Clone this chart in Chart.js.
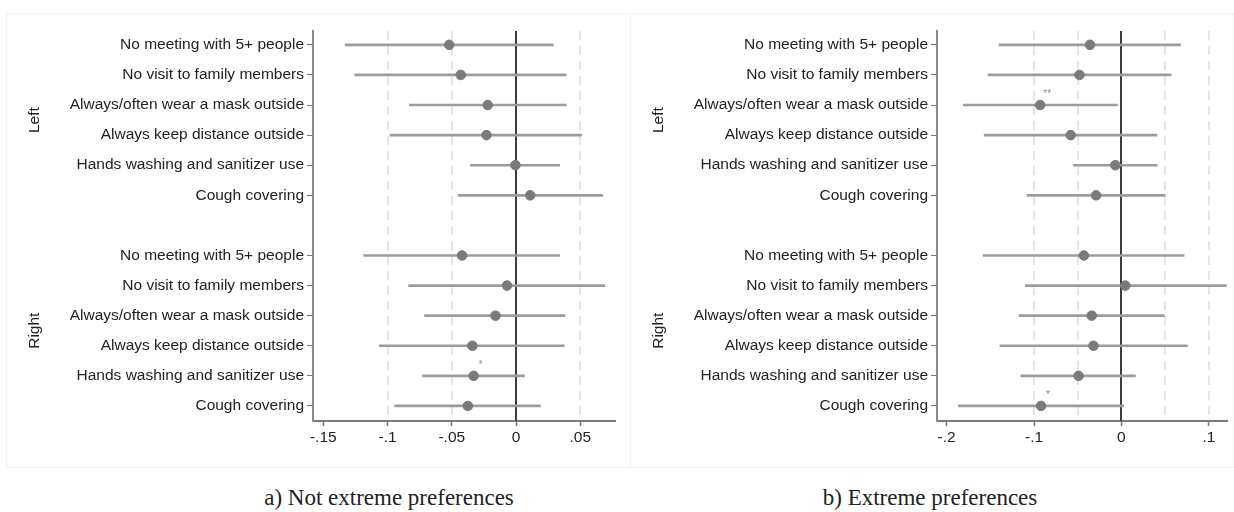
<!DOCTYPE html>
<html>
<head>
<meta charset="utf-8">
<script src="https://cdn.jsdelivr.net/npm/chart.js@4.4.1/dist/chart.umd.min.js"></script>
<style>
    body { margin: 0; background: #fff; width: 1234px; height: 512px; position: relative; overflow: hidden; }
    .panel { position: absolute; top: 13px; height: 455px; border: 1px solid #f2f2f2; box-sizing: border-box; }
    .caption { position: absolute; top: 486px; font-family: "Liberation Serif", "Times New Roman", serif; font-size: 23px; color: #222; line-height: 24px; text-align: center; }
</style>
</head>
<body>
<div class="panel" style="left:6px;width:625px;"><canvas id="chartA" width="623" height="453"></canvas></div>
<div class="panel" style="left:630px;width:604px;"><canvas id="chartB" width="602" height="453"></canvas></div>
<div class="caption" style="left:239px;width:300px;">a) Not extreme preferences</div>
<div class="caption" style="left:780px;width:300px;">b) Extreme preferences</div>

<script>
// categories
var items = ['No meeting with 5+ people', 'No visit to family members', 'Always/often wear a mask outside',
    'Always keep distance outside', 'Hands washing and sanitizer use', 'Cough covering'];
var groups = ['Left', 'Right'];

// a) Not extreme preferences: Left group then Right group
var notExtremeCoef = [-0.052, -0.043, -0.022, -0.023, -0.0005, 0.011,
    -0.042, -0.007, -0.016, -0.034, -0.033, -0.0375];
var notExtremeLo = [-0.133, -0.1255, -0.083, -0.098, -0.0355, -0.045,
    -0.1185, -0.0836, -0.0712, -0.1064, -0.0727, -0.0945];
var notExtremeHi = [0.029, 0.039, 0.039, 0.051, 0.034, 0.0675,
    0.034, 0.069, 0.038, 0.0375, 0.0065, 0.019];
var notExtremeStars = ['', '', '', '', '', '', '', '', '', '', '*', ''];
var notExtremeTicks = [-0.15, -0.1, -0.05, 0, 0.05];
var notExtremeGrid = [-0.1, -0.05, 0.05];

// b) Extreme preferences
var extremeCoef = [-0.036, -0.048, -0.093, -0.058, -0.007, -0.029,
    -0.043, 0.0045, -0.034, -0.032, -0.049, -0.092];
var extremeLo = [-0.14, -0.1526, -0.181, -0.157, -0.055, -0.108,
    -0.158, -0.110, -0.117, -0.139, -0.115, -0.1865];
var extremeHi = [0.0676, 0.057, -0.0045, 0.0406, 0.041, 0.050,
    0.0717, 0.12, 0.049, 0.0755, 0.016, 0.0026];
var extremeStars = ['', '', '**', '', '', '', '', '', '', '', '', '*'];
var extremeTicks = [-0.2, -0.1, 0, 0.1];
var extremeGrid = [-0.1, -0.05, 0.05, 0.1];

// row positions: one empty row between the two groups
var rows = [];
for (var g = 0; g < groups.length; g++) {
    for (var i = 0; i < items.length; i++) {
        rows.push(g * (items.length + 1) + i);
    }
}

var labelFont = { family: '"Liberation Sans", Arial, sans-serif', size: 15.5 };

function fmtTick(v) {
    var s = String(Math.round(v * 100) / 100);
    return s.replace('0.', '.');
}

function drawPanel(id, coef, lo, hi, stars, xTicks, gridVals, xMin, xMax, padRight) {
    var ciData = [], ptData = [];
    for (var k = 0; k < rows.length; k++) {
        ciData.push({ y: rows[k], x: [lo[k], hi[k]] });
        ptData.push({ x: coef[k], y: rows[k] });
    }

    // dashed reference lines, zero line, stars and group names
    var extras = {
        id: 'extras',
        beforeDatasetsDraw: function (chart) {
            var ctx = chart.ctx, x = chart.scales.x, area = chart.chartArea;
            ctx.save();
            ctx.strokeStyle = '#dedede';
            ctx.lineWidth = 1.5;
            ctx.setLineDash([9, 6]);
            gridVals.forEach(function (v) {
                var px = Math.round(x.getPixelForValue(v));
                ctx.beginPath();
                ctx.moveTo(px, area.top);
                ctx.lineTo(px, area.bottom);
                ctx.stroke();
            });
            ctx.setLineDash([]);
            ctx.strokeStyle = '#3c3c3c';
            ctx.lineWidth = 2;
            var zx = Math.round(x.getPixelForValue(0));
            ctx.beginPath();
            ctx.moveTo(zx, area.top);
            ctx.lineTo(zx, area.bottom);
            ctx.stroke();
            ctx.restore();
        },
        afterDatasetsDraw: function (chart) {
            var ctx = chart.ctx, x = chart.scales.x, y = chart.scales.y;
            ctx.save();
            ctx.fillStyle = '#888';
            ctx.font = '10px "Liberation Sans", Arial, sans-serif';
            ctx.textAlign = 'center';
            for (var k = 0; k < rows.length; k++) {
                if (stars[k]) {
                    ctx.fillText(stars[k], x.getPixelForValue(coef[k]) + 7, y.getPixelForValue(rows[k]) - 8);
                }
            }
            ctx.fillStyle = '#222';
            ctx.font = '15.5px "Liberation Sans", Arial, sans-serif';
            ctx.textBaseline = 'middle';
            for (var g = 0; g < groups.length; g++) {
                var mid = g * (items.length + 1) + (items.length - 1) / 2;
                ctx.save();
                ctx.translate(28, y.getPixelForValue(mid));
                ctx.rotate(-Math.PI / 2);
                ctx.fillText(groups[g], 0, 0);
                ctx.restore();
            }
            ctx.restore();
        }
    };

    var config = {
        type: 'bar',
        data: {
            datasets: [{
                type: 'scatter',
                data: ptData,
                backgroundColor: '#7a7a7a',
                borderColor: '#7a7a7a',
                pointRadius: 4.8,
                pointHoverRadius: 4.8,
                order: 0
            }, {
                type: 'bar',
                indexAxis: 'y',
                data: ciData,
                backgroundColor: '#9c9c9c',
                barThickness: 2,
                order: 1
            }]
        },
        plugins: [extras],
        options: {
            responsive: false,
            animation: false,
            events: [],
            layout: { padding: { top: 17, right: padRight, left: 0, bottom: 0 } },
            plugins: { legend: { display: false }, tooltip: { enabled: false } },
            scales: {
                x: {
                    type: 'linear',
                    offset: false,
                    min: xMin,
                    max: xMax,
                    afterBuildTicks: function (s) { s.ticks = xTicks.map(function (v) { return { value: v }; }); },
                    afterFit: function (s) { s.height = 46; },
                    grid: { offset: false, drawOnChartArea: false, tickLength: 5, color: '#777', tickWidth: 1.5 },
                    border: { color: '#7a7a7a', width: 2 },
                    ticks: { color: '#222', font: labelFont, padding: 2, maxRotation: 0, autoSkip: false, callback: fmtTick }
                },
                y: {
                    type: 'linear',
                    offset: false,
                    reverse: true,
                    min: -0.46,
                    max: 12.5,
                    afterBuildTicks: function (s) { s.ticks = rows.map(function (v) { return { value: v }; }); },
                    afterFit: function (s) { s.width = 306; },
                    grid: { offset: false, drawOnChartArea: false, tickLength: 6, color: '#777', tickWidth: 1 },
                    border: { color: '#8a8a8a', width: 2 },
                    ticks: {
                        color: '#222', font: labelFont, padding: 3, autoSkip: false,
                        callback: function (v) { return items[Math.round(v) % (items.length + 1)]; }
                    }
                }
            }
        }
    };

    var ctx = document.getElementById(id).getContext('2d');
    return new Chart(ctx, config);
}

drawPanel('chartA', notExtremeCoef, notExtremeLo, notExtremeHi, notExtremeStars,
    notExtremeTicks, notExtremeGrid, -0.158, 0.077, 15);
drawPanel('chartB', extremeCoef, extremeLo, extremeHi, extremeStars,
    extremeTicks, extremeGrid, -0.211, 0.121, 3);
</script>
</body>
</html>
